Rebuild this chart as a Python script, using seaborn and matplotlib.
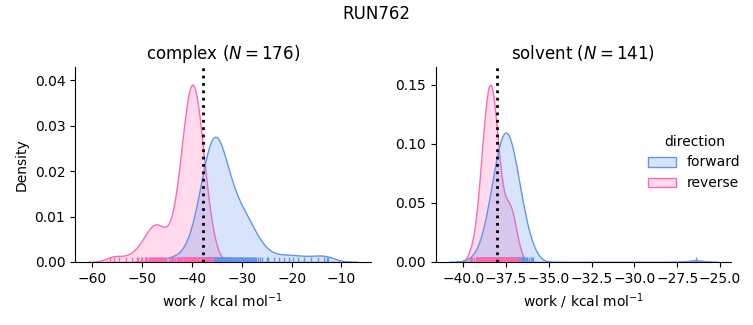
import numpy as np
import pandas as pd
import seaborn as sns
import matplotlib
matplotlib.use("Agg")
import matplotlib.pyplot as plt
from matplotlib.ticker import MultipleLocator

run_title = "RUN762"
phases = ["complex", "solvent"]
directions = ["forward", "reverse"]
n_cycles = {"complex": 176, "solvent": 141}
free_energy = {"complex": -37.70, "solvent": -38.06}

complex_forward = [
    -35.56, -35.68, -35.80, -35.93, -36.05, -36.18, -36.31, -36.44, -36.58, -36.73,
    -36.88, -37.04, -37.21, -37.40, -37.61, -37.84, -38.12, -38.46, -38.94, -39.83,
    -35.44, -35.32, -35.20, -35.07, -34.95, -34.82, -34.69, -34.56, -34.42, -34.27,
    -34.12, -33.96, -33.79, -33.60, -33.39, -33.16, -32.88, -32.54, -32.07, -31.18,
    -35.56, -35.69, -35.81, -35.94, -36.07, -36.20, -36.34, -36.48, -36.62, -36.77,
    -36.93, -37.10, -37.27, -37.47, -37.68, -37.93, -38.21, -38.57, -39.06, -39.98,
    -35.44, -35.31, -35.19, -35.06, -34.93, -34.80, -34.66, -34.52, -34.38, -34.23,
    -34.07, -33.90, -33.73, -33.53, -33.32, -33.07, -32.79, -32.43, -31.94, -31.02,
    -35.56, -35.70, -35.83, -35.96, -36.09, -36.23, -36.37, -36.51, -36.66, -36.82,
    -36.98, -37.15, -37.34, -37.54, -37.76, -38.01, -38.31, -38.68, -39.19, -40.14,
    -35.44, -35.31, -35.18, -35.04, -34.91, -34.77, -34.63, -34.49, -34.34, -34.18,
    -34.02, -33.85, -33.66, -33.46, -33.24, -32.99, -32.69, -32.33, -31.82, -30.86,
    -46.00, -44.30, -42.80, -41.60, -40.80,
    -29.66, -29.79, -29.92, -30.06, -30.19, -30.33, -30.46, -30.61, -30.76, -30.91,
    -31.07, -31.24, -31.43, -31.63, -31.85, -32.10, -32.39, -32.76,
    -29.54, -29.41, -29.28, -29.15, -29.01, -28.88, -28.74, -28.59, -28.44, -28.29,
    -28.13, -27.96, -27.77, -27.57, -27.35, -27.10, -26.81, -26.44, -25.93, -24.98,
    -24.80, -23.60, -22.50, -21.50, -20.60, -19.70, -18.70, -17.50, -16.20, -14.80,
    -13.60, -13.00, -12.75,
]

complex_reverse = [
    -39.95, -40.06, -40.17, -40.28, -40.39, -40.50, -40.61, -40.73, -40.85, -40.98,
    -41.11, -41.26, -41.41, -41.57, -41.76, -41.96, -42.21, -42.51, -42.93, -43.71,
    -39.85, -39.74, -39.63, -39.52, -39.42, -39.30, -39.19, -39.07, -38.95, -38.82,
    -38.69, -38.54, -38.39, -38.23, -38.04, -37.84, -37.60, -37.29, -36.87, -36.09,
    -39.95, -40.07, -40.18, -40.29, -40.40, -40.52, -40.63, -40.76, -40.88, -41.01,
    -41.15, -41.30, -41.45, -41.62, -41.81, -42.02, -42.27, -42.59, -43.02, -43.82,
    -39.85, -39.74, -39.63, -39.51, -39.40, -39.28, -39.17, -39.04, -38.92, -38.79,
    -38.65, -38.50, -38.35, -38.18, -37.99, -37.78, -37.53, -37.22, -36.79, -35.98,
    -39.96, -40.07, -40.18, -40.30, -40.41, -40.53, -40.65, -40.78, -40.91, -41.05,
    -41.19, -41.34, -41.50, -41.67, -41.87, -42.08, -42.34, -42.66, -43.10, -43.93,
    -39.84, -39.73, -39.62, -39.50, -39.39, -39.27, -39.15, -39.02, -38.89, -38.76,
    -38.62, -38.46, -38.30, -38.13, -37.93, -37.72, -37.46, -37.14, -36.70, -35.87,
    -40.01, -40.23, -40.46, -40.70, -40.95, -41.22, -41.54, -41.91, -42.42, -43.33,
    -39.79, -39.57, -39.34, -39.11, -38.85, -38.58, -38.26, -37.89, -37.38, -36.47,
    -47.42, -47.65, -47.88, -48.13, -48.39, -48.68, -49.01, -49.41, -49.94, -50.89,
    -47.19, -46.95, -46.72, -46.47, -46.21, -45.92, -45.59, -45.20, -44.67, -43.71,
    -47.53, -48.01, -48.53, -49.20, -50.31,
    -47.07, -46.60, -46.07, -45.40, -44.29,
    -51.00, -52.00, -53.20, -54.60, -55.70, -56.50,
]

solvent_forward = [
    -37.54, -37.58, -37.62, -37.66, -37.71, -37.75, -37.79, -37.84, -37.89, -37.93,
    -37.98, -38.04, -38.10, -38.16, -38.23, -38.31, -38.40, -38.52, -38.68, -38.98,
    -37.50, -37.46, -37.42, -37.38, -37.34, -37.29, -37.25, -37.20, -37.16, -37.11,
    -37.06, -37.00, -36.94, -36.88, -36.81, -36.73, -36.64, -36.52, -36.36, -36.06,
    -37.54, -37.58, -37.63, -37.67, -37.71, -37.76, -37.81, -37.85, -37.90, -37.95,
    -38.01, -38.06, -38.12, -38.19, -38.26, -38.35, -38.44, -38.56, -38.73, -39.04,
    -37.50, -37.46, -37.41, -37.37, -37.33, -37.28, -37.24, -37.19, -37.14, -37.09,
    -37.03, -36.98, -36.92, -36.85, -36.78, -36.70, -36.60, -36.48, -36.31, -36.00,
    -37.54, -37.59, -37.63, -37.68, -37.72, -37.77, -37.82, -37.87, -37.92, -37.97,
    -38.03, -38.09, -38.15, -38.22, -38.30, -38.38, -38.48, -38.61, -38.78, -39.55,
    -37.50, -37.45, -37.41, -37.36, -37.32, -37.27, -37.22, -37.17, -37.12, -37.07,
    -37.01, -36.95, -36.89, -36.82, -36.75, -36.66, -36.56, -36.43, -36.26, -35.93,
    -37.56, -37.65, -37.74, -37.83, -37.93, -38.03, -38.16, -38.30, -38.50, -38.85,
    -37.48, -37.39, -37.30, -37.21, -37.11, -37.01, -36.88, -36.74, -36.54, -36.19,
    -26.42,
]

solvent_reverse = [
    -38.44, -38.47, -38.50, -38.53, -38.55, -38.58, -38.61, -38.64, -38.67, -38.70,
    -38.74, -38.77, -38.81, -38.85, -38.90, -38.95, -39.01, -39.09, -39.20, -39.39,
    -38.42, -38.39, -38.36, -38.34, -38.31, -38.28, -38.25, -38.22, -38.19, -38.16,
    -38.12, -38.09, -38.05, -38.01, -37.96, -37.91, -37.85, -37.77, -37.67, -37.47,
    -38.44, -38.47, -38.50, -38.53, -38.56, -38.59, -38.62, -38.65, -38.68, -38.72,
    -38.75, -38.79, -38.83, -38.87, -38.92, -38.98, -39.04, -39.12, -39.23, -39.50,
    -38.42, -38.39, -38.36, -38.33, -38.30, -38.27, -38.24, -38.21, -38.18, -38.14,
    -38.11, -38.07, -38.03, -37.99, -37.94, -37.88, -37.82, -37.74, -37.63, -37.42,
    -38.44, -38.47, -38.50, -38.53, -38.56, -38.60, -38.63, -38.66, -38.69, -38.73,
    -38.77, -38.81, -38.85, -38.89, -38.94, -39.00, -39.07, -39.15, -39.27, -39.60,
    -38.41, -38.39, -38.36, -38.33, -38.30, -38.27, -38.23, -38.20, -38.17, -38.13,
    -38.09, -38.05, -38.01, -37.97, -37.92, -37.86, -37.79, -37.71, -37.59, -37.38,
    -37.22, -37.25, -37.29, -37.32, -37.36, -37.40, -37.45, -37.51, -37.59, -37.73,
    -37.18, -37.15, -37.11, -37.08, -37.04, -37.00, -36.95, -36.89, -36.81, -36.67,
    -37.20,
]

palette = {"forward": "cornflowerblue", "reverse": "hotpink"}

series = {
    ("complex", "forward"): complex_forward,
    ("complex", "reverse"): complex_reverse,
    ("solvent", "forward"): solvent_forward,
    ("solvent", "reverse"): solvent_reverse,
}
rows = []
for (phase, direction), values in series.items():
    for v in values:
        rows.append({"phase": phase, "direction": direction, "work": v})
df = pd.DataFrame(rows)

g = sns.displot(
    data=df, x="work", hue="direction", col="phase", col_order=phases,
    hue_order=directions, kind="kde", fill=True, rug=True, palette=palette,
    facet_kws=dict(sharex=False, sharey=False), height=3, aspect=1.2,
)
fig = g.figure
fig.set_size_inches(7.53, 3.25)
fig.subplots_adjust(left=0.0996, right=0.971, bottom=0.194, top=0.794, wspace=0.22)

for ax, phase in zip(g.axes.flat, phases):
    ax.axvline(free_energy[phase], color="black", linestyle=":", linewidth=2)
    ax.set_title(f"{phase} ($N = {n_cycles[phase]}$)")
    ax.set_xlabel("work / kcal mol$^{-1}$")
g.axes[0, 0].set_ylabel("Density")
g.axes[0, 1].yaxis.set_major_locator(MultipleLocator(0.05))
fig.suptitle(run_title, y=0.985)

leg = g._legend
leg.set_bbox_to_anchor((0.844, 0.50))
if hasattr(leg, "set_loc"):
    leg.set_loc("center left")

fig.savefig("out.png", dpi=100)
